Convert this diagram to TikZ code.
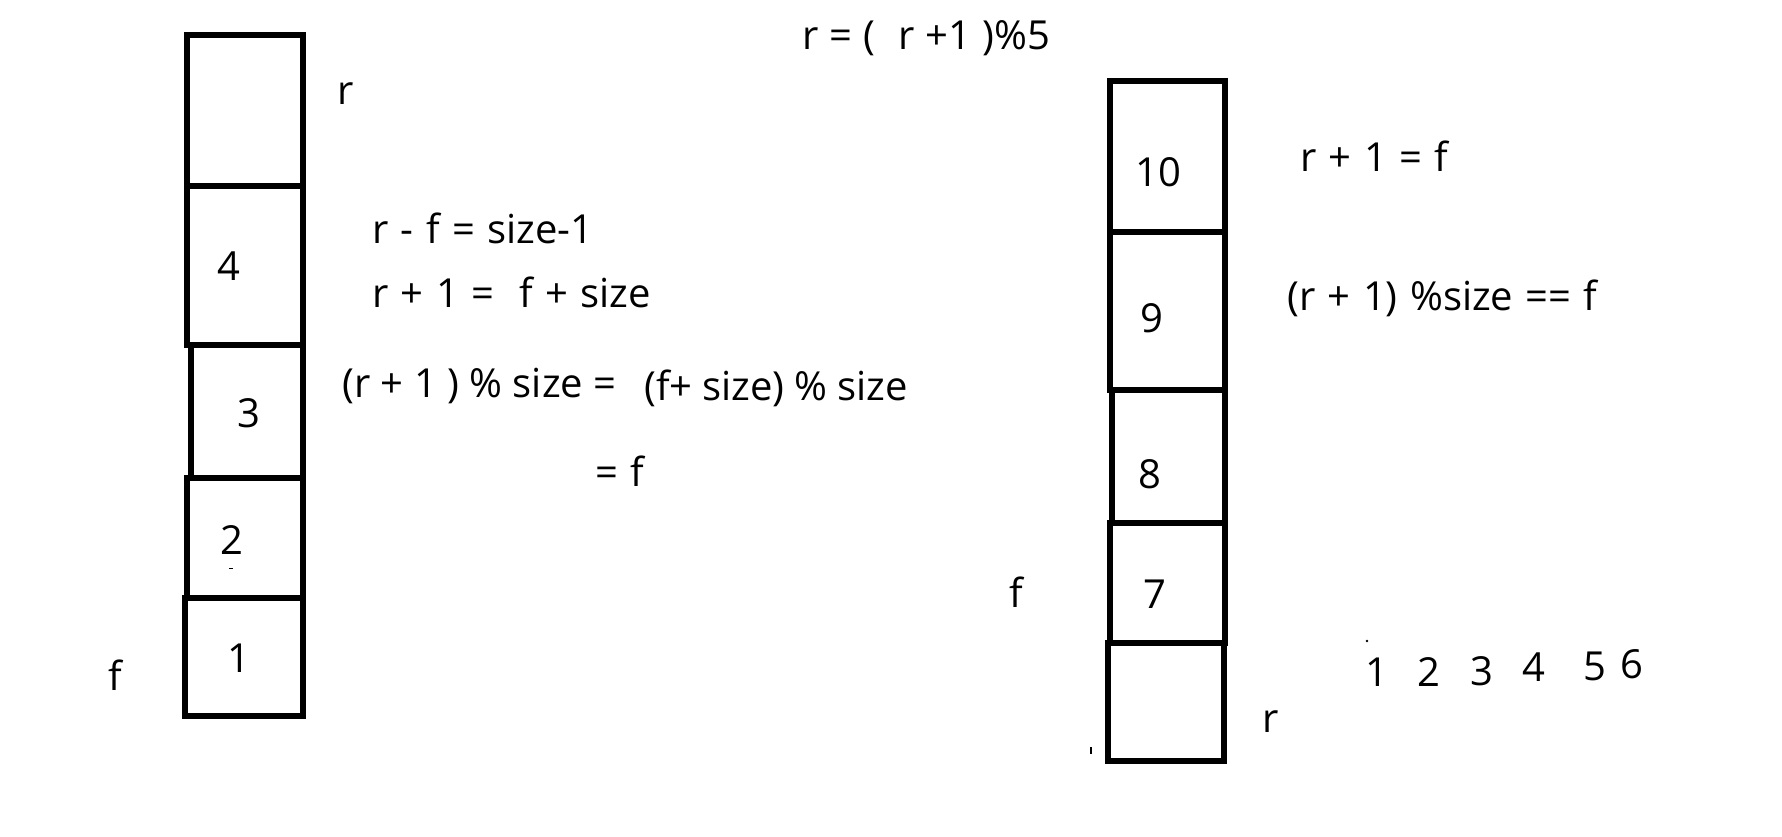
\documentclass[tikz,border=0pt]{standalone}
\usepackage{fontspec}
\setmainfont{Open Sans}
\newcommand{\txtfnt}{\fontsize{40}{46}\selectfont\spaceskip 0.31em\relax}
\newcommand{\narrowsp}{\spaceskip 0.26em\relax}
\newcommand{\midsp}{\spaceskip 0.25em\relax}
\newcommand{\topsp}{\spaceskip 0.28em\relax}
\begin{document}
\begin{tikzpicture}[x=1pt,y=-1pt]
\tikzset{
  cell/.style={draw, line width=5.2pt, inner sep=0pt},
  txt/.style={inner sep=0pt, anchor=base west, font=\txtfnt},
}
\useasboundingbox (0,0) rectangle (1782,837);
\fill[white] (0,0) rectangle (1782,837);
% left column
\node[cell, minimum width=116pt, minimum height=151pt] (L5) at (245,110.5) {};
\node[cell, minimum width=116pt, minimum height=159pt] (L4) at (245,265.5) {};
\node[cell, minimum width=112pt, minimum height=133pt] (L3) at (247,411.5) {};
\node[cell, minimum width=116pt, minimum height=120pt] (L2) at (245,538) {};
\node[cell, minimum width=118pt, minimum height=118pt] (L1) at (244,657) {};
% right column
\node[cell, minimum width=115pt, minimum height=151pt] (R10) at (1167.5,156.5) {};
\node[cell, minimum width=115pt, minimum height=158pt] (R9) at (1167.5,311) {};
\node[cell, minimum width=113pt, minimum height=133pt] (R8) at (1168.5,456.5) {};
\node[cell, minimum width=115pt, minimum height=120pt] (R7) at (1167.5,583) {};
\node[cell, minimum width=116pt, minimum height=118pt] (R0) at (1166,702) {};
% digits in cells
\node[txt] (n4) at (217,280) {4};
\node[txt] (n3) at (237,427) {3};
\node[txt] (n2) at (220,554) {2};
\node[txt] (n1) at (227,672) {1};
\node[txt] (n10) at (1135,187) {10};
\node[txt] (n9) at (1140,332) {9};
\node[txt] (n8) at (1138,488) {8};
\node[txt] (n7) at (1143,608) {7};
% left labels
\node[txt] (lr) at (337,105) {r};
\node[txt] (lf) at (108,690) {f};
\node[txt] (e1) at (372,243) {r - f = size-1};
\node[txt] (e2) at (372,307) {r + 1 =\ \ f + size};
\node[txt] (e3) at (342,397) {\narrowsp (r + 1 ) \% size =};
\node[txt] (e4) at (644,400) {\midsp (f+ size) \% size};
\node[txt] (e5) at (595,486) {= f};
% top
\node[txt] (top) at (802,50) {\topsp r = (\ \ r +1 )\%5};
% right labels
\node[txt] (e6) at (1300,172) {r + 1 = f};
\node[txt] (e7) at (1287,310) {(r + 1) \%size == f};
\node[txt] (rf) at (1009,607) {f};
\node[txt] (rr) at (1262,732) {r};
\node[txt] (d1) at (1365,686) {1};
\node[txt] (d2) at (1417,686) {2};
\node[txt] (d3) at (1470,685) {3};
\node[txt] (d4) at (1522,681) {4};
\node[txt] (d5) at (1583,680) {5};
\node[txt] (d6) at (1620,678) {6};
% tiny marks
\fill (1367,641) circle (1.3);
\fill (1090.3,747) rectangle (1091.8,754);
\fill (229,567.5) rectangle (233,569);
\end{tikzpicture}
\end{document}
